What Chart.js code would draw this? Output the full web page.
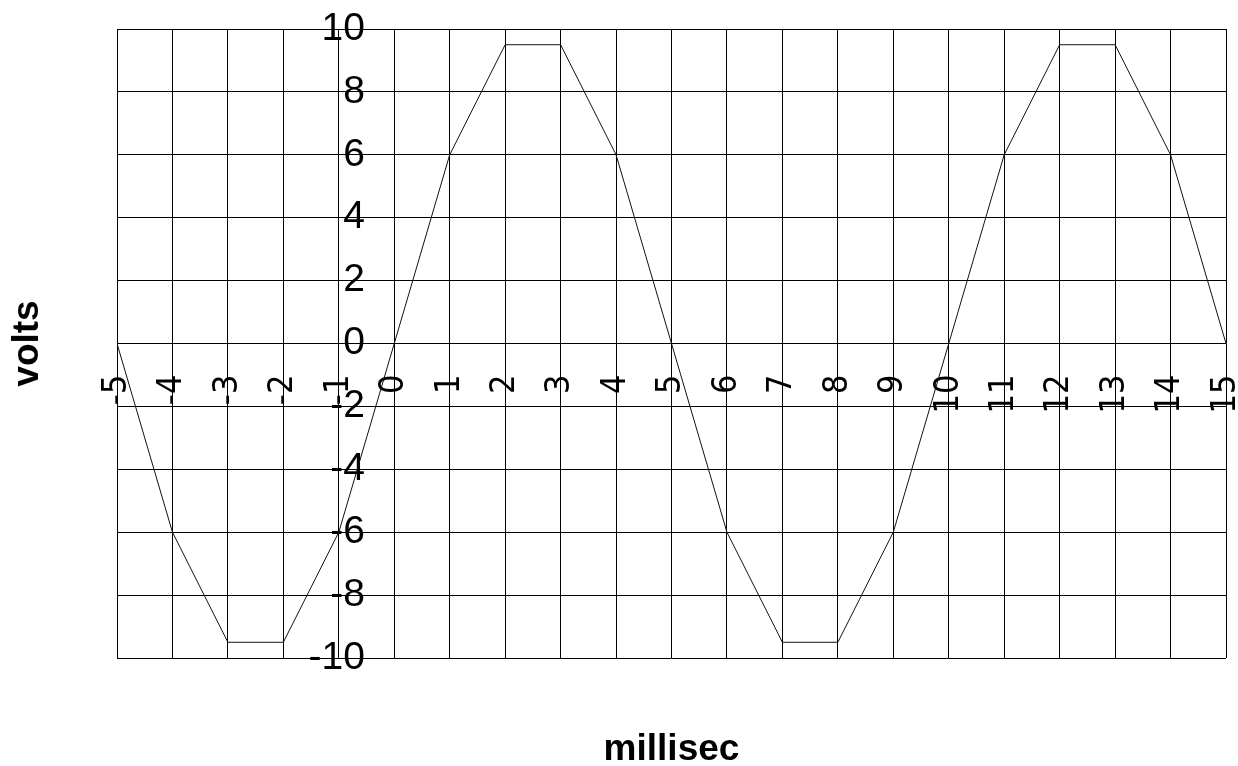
<!DOCTYPE html>
<html>
<head>
<meta charset="utf-8">
<style>
  html, body { margin: 0; padding: 0; background: #fff; }
  #c { display: block; }
</style>
<script src="https://cdn.jsdelivr.net/npm/chart.js@4/dist/chart.umd.min.js"></script>
</head>
<body>
<canvas id="c" width="1238" height="766"></canvas>
<script>
// ---- data ----
const timeMs = [-5, -4, -3, -2, -1, 0, 1, 2, 3, 4, 5, 6, 7, 8, 9, 10, 11, 12, 13, 14, 15];
const volts  = [0, -6, -9.5, -9.5, -6, 0, 6, 9.5, 9.5, 6, 0, -6, -9.5, -9.5, -6, 0, 6, 9.5, 9.5, 6, 0];
const xTicks = [-5, -4, -3, -2, -1, 0, 1, 2, 3, 4, 5, 6, 7, 8, 9, 10, 11, 12, 13, 14, 15];
const yTicks = [-10, -8, -6, -4, -2, 0, 2, 4, 6, 8, 10];
const xTitle = 'millisec';
const yTitle = 'volts';

// ---- style constants ----
const yLabelAnchorX = -0.53;  // x value where the right edge of y tick labels sits
const xLabelAnchorY = -0.99;  // y value where the top end of x tick labels sits

const points = timeMs.map((t, i) => ({ x: t, y: volts[i] }));

function zeroFit(dim) {
  return function (scale) {
    scale[dim] = 0;
    scale.paddingLeft = 0; scale.paddingRight = 0;
    scale.paddingTop = 0; scale.paddingBottom = 0;
  };
}

new Chart(document.getElementById('c'), {
  type: 'line',
  data: {
    datasets: [{
      data: points,
      borderColor: '#111',
      borderWidth: 1,
      pointRadius: 0,
      tension: 0,
      fill: false
    }]
  },
  options: {
    responsive: false,
    animation: false,
    devicePixelRatio: 1,
    layout: { padding: { top: 29, right: 12, bottom: 0, left: 0 } },
    plugins: {
      legend: { display: false },
      tooltip: { enabled: false },
      title: {
        display: true,
        text: yTitle,
        position: 'left',
        fullSize: false,
        color: '#000',
        font: { family: '"Liberation Sans", Arial, sans-serif', size: 37, weight: 'bold', lineHeight: 0.8 },
        padding: { top: 13.2, bottom: 74.2 }
      },
      subtitle: {
        display: true,
        text: xTitle,
        position: 'bottom',
        fullSize: false,
        color: '#000',
        font: { family: '"Liberation Sans", Arial, sans-serif', size: 37, weight: 'bold', lineHeight: 0.8 },
        padding: { top: 77.2, bottom: 1.2 }
      }
    },
    scales: {
      x: {
        type: 'linear',
        min: -5,
        max: 15,
        position: { y: xLabelAnchorY },
        afterBuildTicks: (s) => { s.ticks = xTicks.map(v => ({ value: v })); },
        afterFit: zeroFit('height'),
        border: { display: false },
        grid: { color: '#000', lineWidth: 1, drawTicks: false },
        ticks: {
          autoSkip: false,
          minRotation: 90,
          maxRotation: 90,
          padding: 0,
          color: '#000',
          font: { family: '"Liberation Sans Narrow", "DejaVu Sans Condensed", "Arial Narrow", "Liberation Sans", sans-serif', size: 34 },
          callback: (v) => String(v)
        }
      },
      y: {
        type: 'linear',
        min: -10,
        max: 10,
        position: { x: yLabelAnchorX },
        afterBuildTicks: (s) => { s.ticks = yTicks.map(v => ({ value: v })); },
        afterFit: zeroFit('width'),
        border: { display: false },
        grid: { color: '#000', lineWidth: 1, drawTicks: false },
        ticks: {
          padding: 0,
          color: '#000',
          font: { family: '"Liberation Sans", Arial, sans-serif', size: 39 },
          callback: (v) => String(v)
        }
      }
    }
  }
});
</script>
</body>
</html>
